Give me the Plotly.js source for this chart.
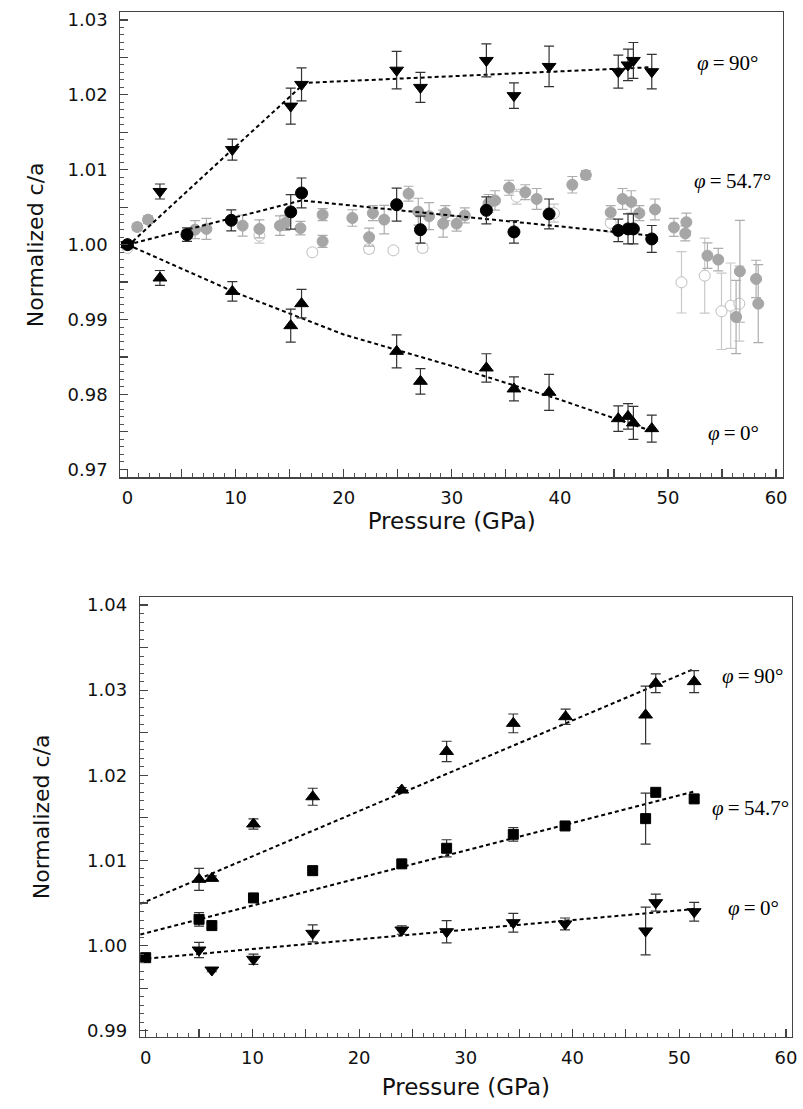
<!DOCTYPE html>
<html>
<head>
<meta charset="utf-8">
<script src="https://cdn.plot.ly/plotly-3.0.1.min.js"></script>
<style>html,body{margin:0;padding:0;background:#fff;}#chart{width:803px;height:1109px;}</style>
</head>
<body>
<div id="chart"></div>
<script>
// ---------- TOP PANEL DATA ----------
const top90X   = [0, 3.0, 9.7, 15.1, 16.1, 24.9, 27.1, 33.2, 35.75, 39.0, 45.4, 46.3, 46.8, 48.5];
const top90Y   = [1.0000, 1.0071, 1.0127, 1.0185, 1.0214, 1.0233, 1.0210, 1.0246, 1.0199, 1.0238, 1.0231, 1.0240, 1.0246, 1.0231];
const top90Err = [0, 0.0010, 0.0014, 0.0024, 0.0022, 0.0025, 0.0020, 0.0022, 0.0017, 0.0027, 0.0022, 0.0021, 0.0024, 0.0023];

const top547X   = [0, 5.5, 9.6, 15.1, 16.1, 24.9, 27.1, 33.2, 35.75, 39.0, 45.4, 46.3, 46.8, 48.5];
const top547Y   = [1.0000, 1.00134, 1.00325, 1.00437, 1.0069, 1.00534, 1.0020, 1.00458, 1.0017, 1.0041, 1.0019, 1.0021, 1.0021, 1.00076];
const top547Err = [0, 0.0009, 0.0014, 0.0023, 0.0020, 0.0022, 0.0018, 0.0018, 0.0015, 0.0020, 0.0015, 0.0020, 0.0020, 0.0018];

const top0X   = [0, 3.0, 9.7, 15.1, 16.1, 24.9, 27.1, 33.2, 35.75, 39.0, 45.4, 46.3, 46.8, 48.5];
const top0Y   = [1.0000, 0.99555, 0.99376, 0.98918, 0.99212, 0.98575, 0.98175, 0.98353, 0.98073, 0.98028, 0.97676, 0.97707, 0.97619, 0.97543];
const top0Err = [0, 0.0010, 0.0013, 0.0022, 0.0019, 0.0022, 0.0017, 0.0019, 0.0016, 0.0024, 0.0017, 0.0017, 0.0022, 0.0018];

const grayX   = [0.9, 1.9, 6.25, 7.3, 10.65, 12.2, 14.1, 14.6, 16.0, 18.05, 18.05, 20.8, 22.35, 22.7, 23.75, 26.0, 26.9, 27.9, 29.2, 29.4, 30.45, 31.2, 33.4, 34.0, 35.3, 36.8, 37.85, 41.15, 42.4, 44.7, 45.8, 46.6, 47.35, 48.8, 50.55, 51.7, 51.6, 53.65, 54.65, 56.3, 56.65, 58.15, 58.35];
const grayY   = [1.00236, 1.00334, 1.0020, 1.0021, 1.00254, 1.0021, 1.00254, 1.0029, 1.0022, 1.0040, 1.00044, 1.00356, 1.0010, 1.0042, 1.00334, 1.0068, 1.0044, 1.0038, 1.0028, 1.0042, 1.0028, 1.0039, 1.0055, 1.0059, 1.0076, 1.0070, 1.0061, 1.0080, 1.0093, 1.0043, 1.0061, 1.0057, 1.0042, 1.0047, 1.0023, 1.0030, 1.0015, 0.99853, 0.9980, 0.99034, 0.99644, 0.99542, 0.99212];
const grayErr = [0.0005, 0.0005, 0.0012, 0.0014, 0.0014, 0.0012, 0.0013, 0.0010, 0.0009, 0.0008, 0.0008, 0.0011, 0.0012, 0.0010, 0.0019, 0.0010, 0.0018, 0.0018, 0.0018, 0.0010, 0.0010, 0.0010, 0.0012, 0.0013, 0.0010, 0.0010, 0.0014, 0.0011, 0.0006, 0.0009, 0.0014, 0.0015, 0.0010, 0.0014, 0.0012, 0.0012, 0.0010, 0.0017, 0.0015, 0.0049, 0.0068, 0.0025, 0.0052];

const openX   = [0, 12.2, 17.1, 22.35, 24.6, 27.3, 36.0, 39.45, 44.7, 51.25, 53.4, 54.95, 55.8, 56.6];
const openY   = [0.99956, 1.0012, 0.99897, 0.99943, 0.99924, 0.99956, 1.0064, 1.0042, 1.0029, 0.99497, 0.99586, 0.9911, 0.99185, 0.99212];
const openErr = [0.0003, 0.0010, 0.0004, 0.0005, 0.0004, 0.0005, 0.0010, 0.0012, 0.0012, 0.0041, 0.0050, 0.0051, 0.0057, 0.0050];

const fitTop90X  = [0, 16.4, 48.5];
const fitTop90Y  = [0.9998, 1.0216, 1.0237];
const fitTop547X = [0, 16.1, 48.5];
const fitTop547Y = [1.0000, 1.0059, 1.0012];
const fitTop0X   = [0, 10, 20, 30, 40, 48.5];
const fitTop0Y   = [1.0000, 0.9936, 0.9880, 0.9838, 0.9793, 0.9751];

// ---------- BOTTOM PANEL DATA ----------
const bot90X   = [5.0, 6.2, 10.1, 15.65, 24.0, 28.2, 34.45, 39.35, 46.85, 47.8, 51.4];
const bot90Y   = [1.00778, 1.0079, 1.01428, 1.01748, 1.01827, 1.0228, 1.0261, 1.02688, 1.02708, 1.0308, 1.0310];
const bot90Err = [0.0013, 0.0003, 0.0006, 0.0010, 0.0003, 0.0012, 0.0011, 0.0009, 0.0034, 0.0011, 0.0013];

const bot547X   = [0, 5.0, 6.2, 10.1, 15.65, 24.0, 28.2, 34.45, 39.3, 46.85, 47.8, 51.4];
const bot547Y   = [0.99858, 1.00309, 1.00235, 1.0056, 1.0088, 1.0096, 1.01143, 1.01307, 1.01405, 1.01491, 1.01800, 1.01723];
const bot547Err = [0.0003, 0.0008, 0.0003, 0.0003, 0.0005, 0.0003, 0.0010, 0.0008, 0.0003, 0.0030, 0.0003, 0.0004];

const bot0X   = [5.0, 6.2, 10.1, 15.65, 24.0, 28.2, 34.45, 39.3, 46.85, 47.8, 51.4];
const bot0Y   = [0.99948, 0.99713, 0.99839, 1.00144, 1.00183, 1.00163, 1.00269, 1.00254, 1.00172, 1.00504, 1.00398];
const bot0Err = [0.0009, 0.0002, 0.0006, 0.0010, 0.0005, 0.0013, 0.0011, 0.0007, 0.0028, 0.0010, 0.0011];

const fitBot90X  = [-0.5, 51.4];
const fitBot90Y  = [1.0049, 1.0325];
const fitBot547X = [-0.5, 51.4];
const fitBot547Y = [1.0013, 1.0181];
const fitBot0X   = [-0.5, 51.4];
const fitBot0Y   = [0.9984, 1.0043];

// ---------- LABELS ----------
const xTitle = 'Pressure (GPa)';
const yTitle = 'Normalized c/a';
const phiLabels = ['<i>φ</i>\u2009=\u200990°', '<i>φ</i>\u2009=\u200954.7°', '<i>φ</i>\u2009=\u20090°'];

// ---------- helpers ----------
function errBar(arr, color, w) {
  return {type: 'data', array: arr, visible: true, color: color, thickness: 1.2, width: w};
}
function pts(x, y, err, xa, ya, symbol, size, fill, lineColor, errColor) {
  return {
    type: 'scatter', mode: 'markers', x: x, y: y, xaxis: xa, yaxis: ya,
    marker: {symbol: symbol, size: size, color: fill, line: {color: lineColor, width: 1}},
    error_y: errBar(err, errColor, 5), showlegend: false, hoverinfo: 'x+y'
  };
}
function fit(x, y, xa, ya) {
  return {type: 'scatter', mode: 'lines', x: x, y: y, xaxis: xa, yaxis: ya,
    line: {color: '#000', width: 2, dash: '4px,3px'}, showlegend: false, hoverinfo: 'skip'};
}

const traces = [
  // top panel
  pts(openX, openY, openErr, 'x', 'y', 'circle', 11, '#ffffff', '#bdbdbd', '#c8c8c8'),
  pts(grayX, grayY, grayErr, 'x', 'y', 'circle', 11, '#a6a6a6', '#a6a6a6', '#adadad'),
  fit(fitTop90X, fitTop90Y, 'x', 'y'),
  fit(fitTop547X, fitTop547Y, 'x', 'y'),
  fit(fitTop0X, fitTop0Y, 'x', 'y'),
  pts(top547X, top547Y, top547Err, 'x', 'y', 'circle', 12, '#000', '#000', '#333'),
  pts(top90X, top90Y, top90Err, 'x', 'y', 'triangle-down', 12, '#000', '#000', '#333'),
  pts(top0X, top0Y, top0Err, 'x', 'y', 'triangle-up', 12, '#000', '#000', '#333'),
  // bottom panel
  fit(fitBot90X, fitBot90Y, 'x2', 'y2'),
  fit(fitBot547X, fitBot547Y, 'x2', 'y2'),
  fit(fitBot0X, fitBot0Y, 'x2', 'y2'),
  pts(bot90X, bot90Y, bot90Err, 'x2', 'y2', 'triangle-up', 12, '#000', '#000', '#333'),
  pts(bot547X, bot547Y, bot547Err, 'x2', 'y2', 'square', 10, '#000', '#000', '#333'),
  pts(bot0X, bot0Y, bot0Err, 'x2', 'y2', 'triangle-down', 12, '#000', '#000', '#333')
];

// tick helpers (every 5 GPa, labels at 10s; every 0.005, labels at 0.01)
function xTicks() {
  const v = [], t = [];
  for (let i = 0; i <= 60; i += 5) { v.push(i); t.push(i % 10 === 0 ? String(i) : ''); }
  return {v, t};
}
function yTicks(lo, hi) {
  const v = [], t = [];
  for (let k = Math.round(lo * 1000); k <= Math.round(hi * 1000); k += 5) {
    v.push(k / 1000); t.push(k % 10 === 0 ? (k / 1000).toFixed(2) : '');
  }
  return {v, t};
}
const xt = xTicks();
const ytTop = yTicks(0.97, 1.03);
const ytBot = yTicks(0.99, 1.04);

const tickFont = {family: 'DejaVu Sans', size: 18, color: '#111'};
const titleFont = {family: 'DejaVu Sans', size: 22, color: '#111'};
const xTitleFont = {family: 'DejaVu Sans', size: 23, color: '#111'};
function xAxis(domain, range, anchor, standoff) {
  return {
    domain: domain, range: range, anchor: anchor, autorange: false,
    showline: true, linecolor: '#444', linewidth: 1.3, mirror: true,
    showgrid: false, zeroline: false,
    tickmode: 'array', tickvals: xt.v, ticktext: xt.t,
    ticks: 'inside', ticklen: 8, tickcolor: '#444', tickwidth: 1.2,
    minor: {dtick: 1, tick0: 0, ticks: 'inside', ticklen: 4, tickcolor: '#555', tickwidth: 1, showgrid: false},
    tickfont: tickFont, ticklabelstandoff: 4,
    title: {text: xTitle, font: xTitleFont, standoff: standoff}
  };
}
function yAxis(domain, range, anchor, yt, standoff) {
  return {
    domain: domain, range: range, anchor: anchor, autorange: false,
    showline: true, linecolor: '#444', linewidth: 1.3, mirror: true,
    showgrid: false, zeroline: false,
    tickmode: 'array', tickvals: yt.v, ticktext: yt.t,
    ticks: 'inside', ticklen: 8, tickcolor: '#444', tickwidth: 1.2,
    minor: {dtick: 0.001, tick0: 0.97, ticks: 'inside', ticklen: 4, tickcolor: '#555', tickwidth: 1, showgrid: false},
    tickfont: tickFont, ticklabelstandoff: 8,
    title: {text: yTitle, font: titleFont, standoff: standoff}
  };
}

const annFont = {family: 'Liberation Serif', size: 21, color: '#000'};
function ann(text, x, y, xr, yr) {
  return {text: text, x: x, y: y, xref: xr, yref: yr, showarrow: false, font: annFont, xanchor: 'center', yanchor: 'middle'};
}

const layout = {
  width: 803, height: 1109,
  margin: {l: 0, r: 0, t: 0, b: 0},
  paper_bgcolor: '#fff', plot_bgcolor: '#fff',
  showlegend: false,
  xaxis: xAxis([0.15006, 0.97509], [-0.648, 60.64], 'y', 2),
  yaxis: yAxis([0.56961, 0.98891], [0.96893, 1.03103], 'x', ytTop, 17),
  xaxis2: xAxis([0.17435, 0.98593], [-0.534, 60.54], 'y2', 12),
  yaxis2: yAxis([0.06519, 0.46168], [0.98930, 1.04094], 'x2', ytBot, 31),
  annotations: [
    ann(phiLabels[0], 55.55, 1.0243, 'x', 'y'),
    ann(phiLabels[1], 55.97, 1.00845, 'x', 'y'),
    ann(phiLabels[2], 56.1, 0.97485, 'x', 'y'),
    ann(phiLabels[0], 56.87, 1.03167, 'x2', 'y2'),
    ann(phiLabels[1], 56.64, 1.01613, 'x2', 'y2'),
    ann(phiLabels[2], 57.0, 1.00438, 'x2', 'y2')
  ]
};

Plotly.newPlot('chart', traces, layout, {displayModeBar: false, staticPlot: true});
</script>
</body>
</html>
